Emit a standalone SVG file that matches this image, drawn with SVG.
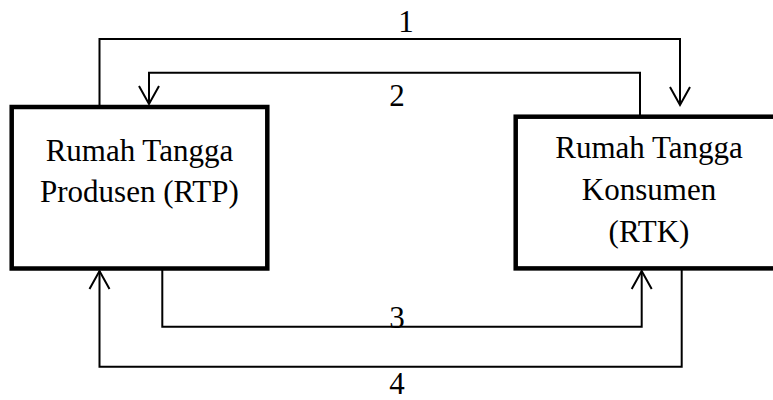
<svg xmlns="http://www.w3.org/2000/svg" width="773" height="400" viewBox="0 0 773 400">
<defs>
<marker id="arr" markerUnits="userSpaceOnUse" markerWidth="24" markerHeight="26" viewBox="-20 -12 24 24" refX="0" refY="0" orient="auto" overflow="visible">
<path d="M -18 -10 L 0 0 L -18 10" fill="none" stroke="#000" stroke-width="2"/>
</marker>
</defs>
<style>
text{font-family:'Liberation Serif','Tinos','Times New Roman','DejaVu Serif',serif;font-size:31px;fill:#000;text-anchor:middle}
.box{fill:#fff;stroke:#000;stroke-width:4.5}
.c{fill:none;stroke:#000;stroke-width:2}
</style>
<rect width="773" height="400" fill="#fff"/>
<g id="connectors">
<polyline class="c" points="99.5,107 99.5,39 680,39 680,105" marker-end="url(#arr)"/>
<polyline class="c" points="640,117 640,72.7 149,72.7 149,104" marker-end="url(#arr)"/>
<polyline class="c" points="162.3,270 162.3,326.7 641.7,326.7 641.7,271" marker-end="url(#arr)"/>
<polyline class="c" points="681.7,270 681.7,366.7 99.5,366.7 99.5,271" marker-end="url(#arr)"/>
<text font-family="Liberation Serif, serif" x="406" y="32">1</text>
<text font-family="Liberation Serif, serif" x="397" y="106">2</text>
<text font-family="Liberation Serif, serif" x="397" y="328">3</text>
<text font-family="Liberation Serif, serif" x="397" y="394">4</text>
</g>
<g id="rtp">
<rect class="box" x="11.7" y="107" width="255.6" height="161.5"/>
<text font-family="Liberation Serif, serif" x="139.4" y="160.7">Rumah Tangga</text>
<text font-family="Liberation Serif, serif" x="139.4" y="201.7">Produsen (RTP)</text>
</g>
<g id="rtk">
<rect class="box" x="515.7" y="116.7" width="266" height="151.7"/>
<text font-family="Liberation Serif, serif" x="649" y="158.3">Rumah Tangga</text>
<text font-family="Liberation Serif, serif" x="649" y="200">Konsumen</text>
<text font-family="Liberation Serif, serif" x="649" y="241.7">(RTK)</text>
</g>
</svg>
